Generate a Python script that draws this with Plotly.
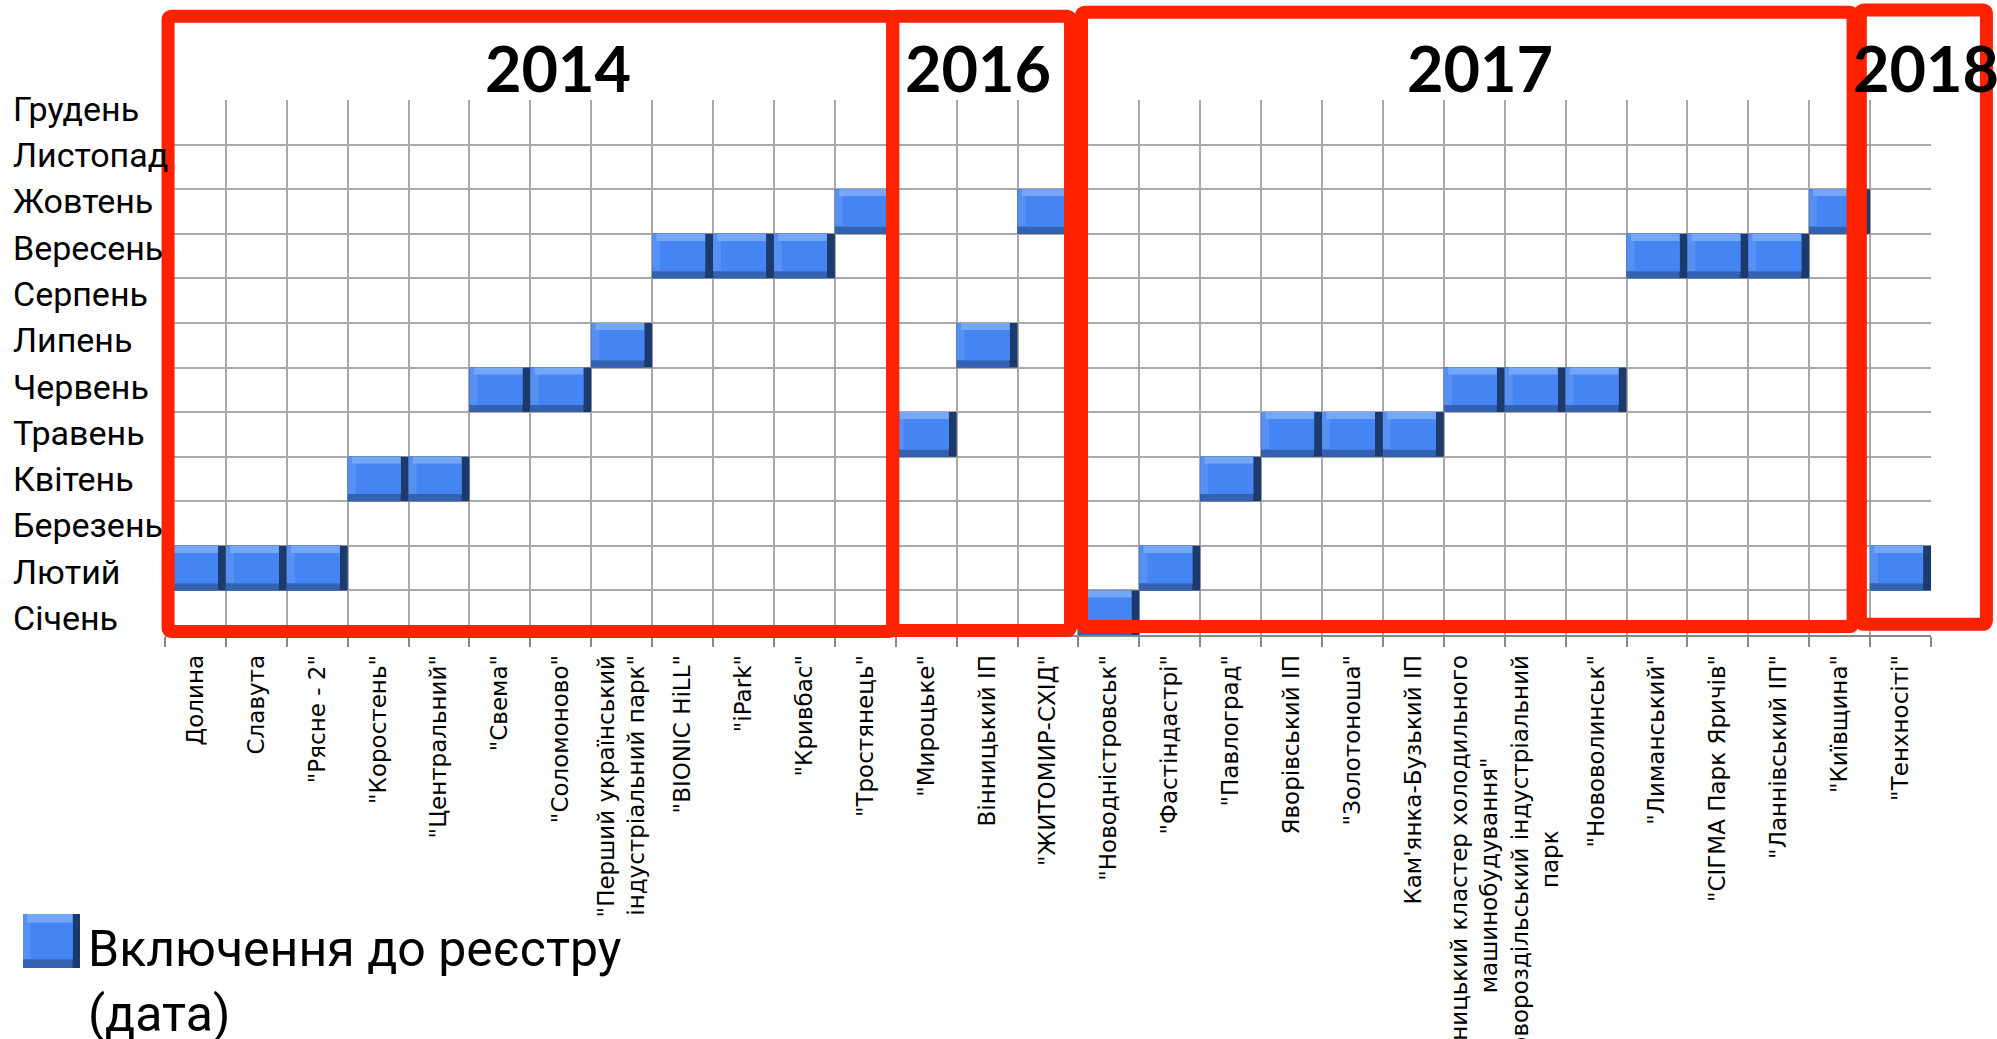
import numpy as np
import plotly.graph_objects as go

NB = "\u00a0"

# ---------------- data ----------------
parks = [
    "Долина",
    "Славута",
    "\"Рясне - 2\"",
    "\"Коростень\"",
    "\"Центральний\"",
    "\"Свема\"",
    "\"Соломоново\"",
    "\"Перший український<br>індустріальний парк\"",
    "\"BIONIC HiLL\"",
    "\"iPark\"",
    "\"Кривбас\"",
    "\"Тростянець\"",
    "\"Мироцьке\"",
    "Вінницький ІП",
    "\"ЖИТОМИР-СХІД\"",
    "\"Новодністровськ\"",
    "\"Фастіндастрі\"",
    "\"Павлоград\"",
    "Яворівський ІП",
    "\"Золотоноша\"",
    "Кам'янка-Бузький ІП",
    "\"Вінницький кластер холодильного<br>машинобудування\"" + NB * 14,
    "Новороздільський індустріальний<br>парк" + NB * 24,
    "\"Нововолинськ\"",
    "\"Лиманський\"",
    "\"СІГМА Парк Яричів\"",
    "\"Ланнівський ІП\"",
    "\"Київщина\"",
    "\"Тенхносіті\"",
]
# month of inclusion into the register (1 = January)
months = [2, 2, 2, 4, 4, 6, 6, 7, 9, 9, 9, 10,
          5, 7, 10,
          1, 2, 4, 5, 5, 5, 6, 6, 6, 9, 9, 9, 10,
          2]
month_names = ["Січень", "Лютий", "Березень", "Квітень", "Травень", "Червень",
               "Липень", "Серпень", "Вересень", "Жовтень", "Листопад", "Грудень"]
years = ["2014", "2016", "2017", "2018"]
legend_label = "Включення до реєстру<br>(дата)"

# ---------------- layout / style ----------------
W, H = 1997, 1039
L, R, T, B = 165, 66, 100, 404
PW, PH = W - L - R, H - T - B
N = len(parks)

# year frames (axis units: category index, month units)
box_x0 = [-0.45, 11.45, 14.55, 27.34]
box_x1 = [11.45, 14.37, 27.22, 29.41]
box_y0 = [0.08, 0.10, 0.19, 0.24]
box_y1 = [13.88, 13.88, 13.97, 14.02]
year_px = [(558, 68), (978, 68), (1480, 68), (1926, 68)]

RED = "rgb(255,34,0)"
GRID = "#a9a9a9"


def px_x(px):
    return (px - L) / PW


def px_y(py):
    return 1 - (py - T) / PH


def dx(xd):
    return (xd + 0.5) / N


def dy(yd):
    return yd / 12.0


def rounded_rect(x0, x1, y0, y1, r_px=4):
    rx, ry = r_px / PW, r_px / PH
    return (f"M{x0 + rx},{y1} L{x1 - rx},{y1} Q{x1},{y1} {x1},{y1 - ry} "
            f"L{x1},{y0 + ry} Q{x1},{y0} {x1 - rx},{y0} "
            f"L{x0 + rx},{y0} Q{x0},{y0} {x0},{y0 + ry} "
            f"L{x0},{y1 - ry} Q{x0},{y1} {x0 + rx},{y1} Z")


fig = go.Figure()

# beveled bars built from stacked layers (base = month-1, height 1)
layers = [
    # color, offset, width, y_off, height
    ("#1d3a6c", -0.50, 1.00, 0.00, 1.00),
    ("#3462b2", -0.50, 0.87, 0.00, 1.00),
    ("#5690f3", -0.50, 0.87, 0.16, 0.84),
    ("#74a7f8", -0.43, 0.80, 0.84, 0.16),
    ("#4585f3", -0.37, 0.74, 0.16, 0.68),
]
for color, off, wd, yo, hgt in layers:
    fig.add_trace(go.Bar(
        x=parks,
        y=[hgt] * N,
        base=[m - 1 + yo for m in months],
        width=wd,
        offset=off,
        marker=dict(color=color, line=dict(width=0)),
        hoverinfo="skip",
        showlegend=False,
    ))

shapes = []
# red frames around years
for x0, x1, y0, y1 in zip(box_x0, box_x1, box_y0, box_y1):
    shapes.append(dict(type="path", xref="paper", yref="paper",
                       path=rounded_rect(dx(x0), dx(x1), dy(y0), dy(y1)),
                       line=dict(color=RED, width=13), fillcolor="rgba(0,0,0,0)",
                       layer="above"))

# legend key (beveled square)
kx0, kx1, ky0, ky1 = 23, 80, 914, 968
kw, kh = kx1 - kx0, ky1 - ky0
key_layers = [
    ("#1d3a6c", 0.00, 1.00, 0.00, 1.00),
    ("#3462b2", 0.00, 0.87, 0.00, 1.00),
    ("#5690f3", 0.00, 0.87, 0.16, 1.00),
    ("#74a7f8", 0.07, 0.87, 0.84, 1.00),
    ("#4585f3", 0.13, 0.87, 0.16, 0.84),
]
for color, fx0, fx1, fy0, fy1 in key_layers:
    shapes.append(dict(type="rect", xref="paper", yref="paper",
                       x0=px_x(kx0 + fx0 * kw), x1=px_x(kx0 + fx1 * kw),
                       y0=px_y(ky1 - fy0 * kh), y1=px_y(ky1 - fy1 * kh),
                       line=dict(width=0), fillcolor=color, layer="above"))

annotations = []
# month labels (left aligned)
label_y = np.linspace(618, 108.7, 12)
for name, py in zip(month_names, label_y):
    annotations.append(dict(text=name, xref="paper", yref="paper",
                            x=px_x(11), y=px_y(py), xanchor="left", yanchor="middle",
                            showarrow=False,
                            font=dict(family="Roboto", size=34, color="black")))
# year labels
for yr, (px, py) in zip(years, year_px):
    annotations.append(dict(text=yr, xref="paper", yref="paper",
                            x=px_x(px), y=px_y(py), xanchor="center", yanchor="middle",
                            showarrow=False,
                            font=dict(family="Lato", size=63, color="black", weight="bold")))
# legend text
annotations.append(dict(text=legend_label, xref="paper", yref="paper",
                        x=px_x(86), y=px_y(981), xanchor="left", yanchor="middle",
                        align="left", showarrow=False,
                        font=dict(family="Roboto", size=50, color="black")))

fig.update_layout(
    width=W, height=H,
    margin=dict(l=L, r=R, t=T, b=B, autoexpand=False),
    paper_bgcolor="white", plot_bgcolor="white",
    barmode="overlay",
    showlegend=False,
    shapes=shapes,
    annotations=annotations,
    xaxis=dict(
        type="category",
        range=[-0.5, N - 0.5],
        tickson="boundaries",
        tickmode="linear", tick0=0, dtick=1,
        tickangle=-90,
        ticks="outside", ticklen=10, tickwidth=1.5, tickcolor="#888888",
        ticklabelstandoff=9,
        showgrid=True, gridcolor=GRID, gridwidth=1.5,
        showline=True, linecolor="#888888", linewidth=1.5,
        tickfont=dict(family="DejaVu Sans", size=23, color="black"),
        automargin=False,
        fixedrange=True,
    ),
    yaxis=dict(
        range=[0, 12],
        tickmode="array", tickvals=list(range(13)),
        showticklabels=False, ticks="",
        showgrid=True, gridcolor=GRID, gridwidth=1.5,
        zeroline=False, showline=False,
        automargin=False,
        fixedrange=True,
    ),
)

fig.write_html(
    "out.html",
    config={"displayModeBar": False},
    post_script="document.body.style.margin='0';document.body.style.overflow='hidden';",
)
